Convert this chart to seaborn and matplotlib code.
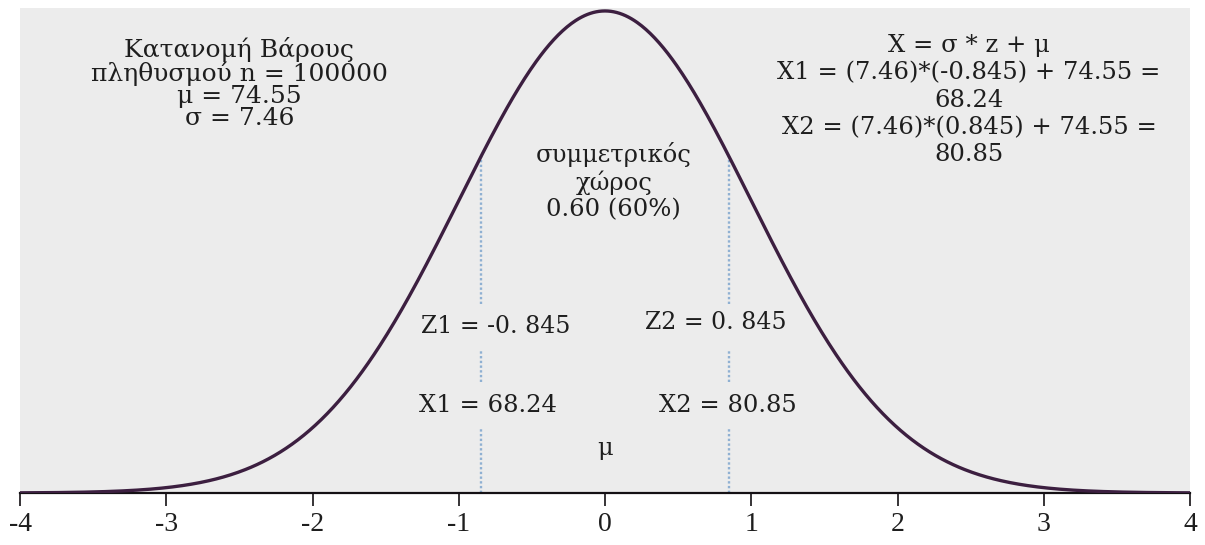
import numpy as np
import pandas as pd
import matplotlib
matplotlib.use("Agg")
import matplotlib.pyplot as plt
import seaborn as sns

# Standard normal curve over z in [-4, 4]
z_min, z_max = -4, 4
z_ticks = [-4, -3, -2, -1, 0, 1, 2, 3, 4]
tick_labels = ["-4", "-3", "-2", "-1", "0", "1", "2", "3", "4"]
z1, z2 = -0.845, 0.845
x1, x2 = 68.24, 80.85
mu, sigma, n_pop = 74.55, 7.46, 100000
area = 0.60

z = np.linspace(z_min, z_max, 801)
pdf = np.exp(-z ** 2 / 2) / np.sqrt(2 * np.pi)
curve = pd.DataFrame({"z": z, "pdf": pdf})

sns.set_theme(style="white")
plt.rcParams["font.family"] = ["DejaVu Serif", "DejaVu Sans"]

fig = plt.figure(figsize=(12.05, 5.45), dpi=100, facecolor="white")
ax = fig.add_axes([20 / 1205, 52 / 545, 1170 / 1205, 485 / 545])
ax.set_facecolor("#ececec")

ink = "#1e1e1e"
curve_col = "#3c1f40"
dash_col = "#8fb0d2"

sns.lineplot(data=curve, x="z", y="pdf", ax=ax, color=curve_col, lw=2.4, zorder=3)

ax.set_xlim(z_min, z_max)
ax.set_ylim(0, 0.3989 * 485 / 482)


def pdf_at(v):
    return np.exp(-v ** 2 / 2) / np.sqrt(2 * np.pi)


def py(pix):
    # vertical position given as pixel row from the top of the figure
    return 0.3989 * (493 - pix) / 486


# dotted markers at the two z values, broken around the labels
for zv in (z1, z2):
    top = pdf_at(zv)
    for y0, y1 in [(py(302), top), (py(381), py(350)), (0.0, py(427))]:
        ax.plot([zv, zv], [y0, y1], color=dash_col, lw=1.7,
                linestyle=(0, (1, 1)), zorder=2)

for s in ["top", "right", "left"]:
    ax.spines[s].set_visible(False)
ax.spines["bottom"].set_color("#141014")
ax.spines["bottom"].set_linewidth(1.6)
ax.set_yticks([])
ax.set_xticks(z_ticks)
ax.set_xticklabels(tick_labels, fontfamily="Liberation Serif", fontsize=20, color=ink)
ax.tick_params(axis="x", direction="out", length=9, width=1.2, color="#141014", pad=5,
               bottom=True)
ax.set_xlabel("")
ax.set_ylabel("")

fs = 17.5
ax.text(-2.50, py(80),
        "Κατανομή Βάρους\nπληθυσμού n = {}\nμ = {}\nσ = {}".format(n_pop, mu, sigma),
        ha="center", va="center", fontsize=18, color=ink, linespacing=0.95)

ax.text(2.49, py(97),
        "X = σ * z + μ\nX1 = ({})*({}) + {} =\n{:.2f}\nX2 = ({})*({}) + {} =\n{:.2f}".format(
            sigma, z1, mu, x1, sigma, z2, mu, x2),
        ha="center", va="center", fontsize=fs, color=ink, linespacing=1.24)

ax.text(0.06, py(179),
        "συμμετρικός\nχώρος\n{:.2f} ({:.0f}%)".format(area, area * 100),
        ha="center", va="center", fontsize=fs, color=ink, linespacing=1.2)

ax.text(-0.75, py(325), "Z1 = {}".format(z1).replace("0.", "0. "),
        ha="center", va="center", fontsize=17, color=ink)
ax.text(0.76, py(321), "Z2 = {}".format(z2).replace("0.", "0. "),
        ha="center", va="center", fontsize=17, color=ink)
ax.text(-0.80, py(405), "X1 = {:.2f}".format(x1),
        ha="center", va="center", fontsize=fs, color=ink)
ax.text(0.84, py(405), "X2 = {:.2f}".format(x2),
        ha="center", va="center", fontsize=fs, color=ink)
ax.text(0.0, py(448), "μ",
        ha="center", va="center", fontsize=fs, color=ink)

fig.savefig("out.png", dpi=100, facecolor="white")
